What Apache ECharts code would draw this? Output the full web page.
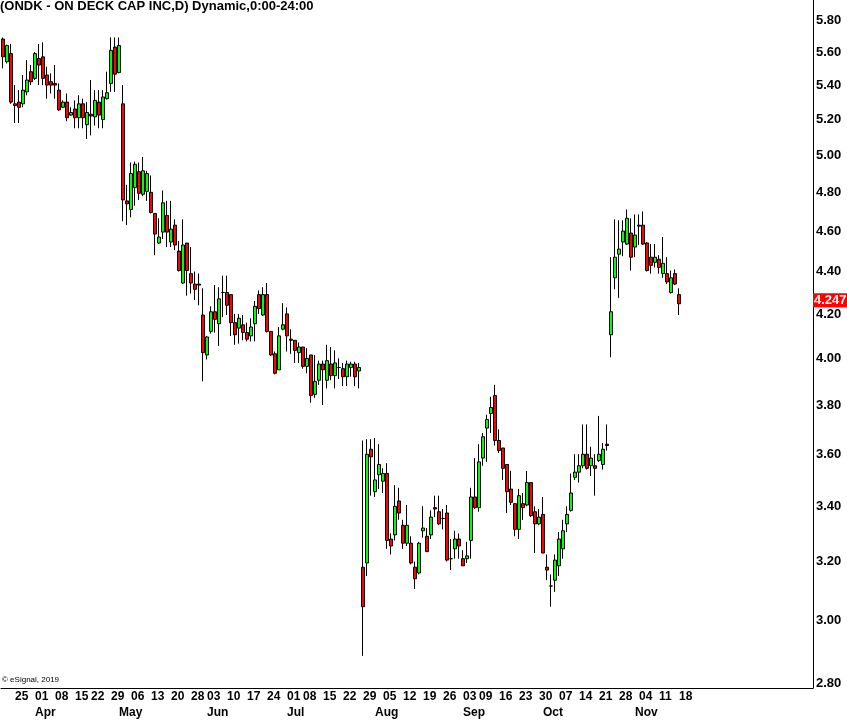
<!DOCTYPE html>
<html>
<head>
<meta charset="utf-8">
<script src="https://cdn.jsdelivr.net/npm/echarts@6/dist/echarts.min.js"></script>
<style>
html,body{margin:0;padding:0;background:#fff;}
#chart{width:847px;height:721px;}
</style>
</head>
<body>
<div id="chart"></div>
<script>
// ---- Data (ONDK daily, 2019) ----
const dates = [
'2019-03-20','2019-03-21','2019-03-22','2019-03-25','2019-03-26','2019-03-27','2019-03-28','2019-03-29',
'2019-04-01','2019-04-02','2019-04-03','2019-04-04','2019-04-05','2019-04-08','2019-04-09','2019-04-10','2019-04-11','2019-04-12','2019-04-15','2019-04-16','2019-04-17','2019-04-18','2019-04-22','2019-04-23','2019-04-24','2019-04-25','2019-04-26','2019-04-29','2019-04-30',
'2019-05-01','2019-05-02','2019-05-03','2019-05-06','2019-05-07','2019-05-08','2019-05-09','2019-05-10','2019-05-13','2019-05-14','2019-05-15','2019-05-16','2019-05-17','2019-05-20','2019-05-21','2019-05-22','2019-05-23','2019-05-24','2019-05-28','2019-05-29','2019-05-30','2019-05-31',
'2019-06-03','2019-06-04','2019-06-05','2019-06-06','2019-06-07','2019-06-10','2019-06-11','2019-06-12','2019-06-13','2019-06-14','2019-06-17','2019-06-18','2019-06-19','2019-06-20','2019-06-21','2019-06-24','2019-06-25','2019-06-26','2019-06-27','2019-06-28',
'2019-07-01','2019-07-02','2019-07-03','2019-07-05','2019-07-08','2019-07-09','2019-07-10','2019-07-11','2019-07-12','2019-07-15','2019-07-16','2019-07-17','2019-07-18','2019-07-19','2019-07-22','2019-07-23','2019-07-24','2019-07-25','2019-07-26','2019-07-29','2019-07-30','2019-07-31',
'2019-08-01','2019-08-02','2019-08-05','2019-08-06','2019-08-07','2019-08-08','2019-08-09','2019-08-12','2019-08-13','2019-08-14','2019-08-15','2019-08-16','2019-08-19','2019-08-20','2019-08-21','2019-08-22','2019-08-23','2019-08-26','2019-08-27','2019-08-28','2019-08-29','2019-08-30',
'2019-09-03','2019-09-04','2019-09-05','2019-09-06','2019-09-09','2019-09-10','2019-09-11','2019-09-12','2019-09-13','2019-09-16','2019-09-17','2019-09-18','2019-09-19','2019-09-20','2019-09-23','2019-09-24','2019-09-25','2019-09-26','2019-09-27','2019-09-30',
'2019-10-01','2019-10-02','2019-10-03','2019-10-04','2019-10-07','2019-10-08','2019-10-09','2019-10-10','2019-10-11','2019-10-14','2019-10-15','2019-10-16','2019-10-17','2019-10-18','2019-10-21','2019-10-22','2019-10-23','2019-10-24','2019-10-25','2019-10-28','2019-10-29','2019-10-30','2019-10-31',
'2019-11-01','2019-11-04','2019-11-05','2019-11-06','2019-11-07','2019-11-08','2019-11-11','2019-11-12','2019-11-13','2019-11-14','2019-11-15','2019-11-18'
];

const opens = [
5.68,5.54,5.59,5.29,5.30,5.29,5.36,5.48,5.44,5.56,
5.57,5.46,5.42,5.41,5.37,5.27,5.30,5.225,5.26,5.21,
5.29,5.17,5.23,5.215,5.30,5.20,5.32,5.41,5.63,5.475,
5.29,4.755,4.71,4.825,4.91,4.79,4.805,4.80,4.69,4.54,
4.595,4.68,4.545,4.63,4.50,4.345,4.54,4.39,4.34,4.34,
4.195,4.015,4.12,4.21,4.155,4.30,4.30,4.29,4.16,4.135,
4.15,4.115,4.10,4.155,4.29,4.195,4.29,4.12,4.02,3.95,
4.13,4.20,4.085,4.08,4.025,4.05,3.965,4.015,3.845,3.905,
3.975,3.905,3.975,3.925,3.96,3.955,3.92,3.96,3.975,3.945,
3.18,3.195,3.62,3.455,3.52,3.495,3.525,3.28,3.295,3.42,
3.33,3.265,3.265,3.18,3.16,3.31,3.29,3.295,3.395,3.38,
3.355,3.375,3.21,3.245,3.28,3.21,3.21,3.275,3.435,3.395,
3.585,3.705,3.765,3.84,3.655,3.625,3.56,3.465,3.41,3.315,
3.41,3.405,3.49,3.38,3.335,3.37,3.18,3.115,3.135,3.185,
3.245,3.335,3.385,3.51,3.53,3.555,3.60,3.555,3.555,3.575,
3.56,3.64,4.105,4.37,4.485,4.545,4.535,4.59,4.52,4.63,
4.63,4.54,4.47,4.445,4.46,4.39,4.39,4.30,4.39,4.29
];
const closes = [
5.57,5.64,5.30,5.28,5.27,5.37,5.43,5.42,5.59,5.52,
5.44,5.40,5.40,5.40,5.255,5.30,5.21,5.24,5.21,5.29,
5.21,5.24,5.22,5.31,5.225,5.33,5.355,5.61,5.465,5.64,
4.76,4.74,4.90,4.95,4.795,4.915,4.90,4.695,4.585,4.57,
4.745,4.595,4.61,4.53,4.405,4.53,4.405,4.345,4.315,4.335,
4.025,4.095,4.21,4.175,4.27,4.30,4.24,4.16,4.105,4.18,
4.115,4.085,4.14,4.235,4.225,4.29,4.12,4.015,3.935,4.10,
4.15,4.10,4.08,4.035,4.05,3.965,4.00,3.84,3.90,3.975,
3.95,3.99,3.925,3.98,3.96,3.92,3.975,3.975,3.92,3.96,
3.045,3.60,3.59,3.50,3.56,3.525,3.275,3.255,3.40,3.375,
3.265,3.33,3.195,3.14,3.265,3.32,3.235,3.36,3.39,3.335,
3.355,3.205,3.21,3.28,3.255,3.185,3.22,3.435,3.395,3.57,
3.67,3.74,3.79,3.655,3.615,3.545,3.455,3.415,3.315,3.44,
3.395,3.49,3.365,3.335,3.36,3.23,3.17,3.115,3.205,3.28,
3.31,3.37,3.45,3.53,3.555,3.60,3.545,3.585,3.545,3.60,
3.62,3.635,4.21,4.47,4.51,4.60,4.665,4.47,4.58,4.625,
4.535,4.405,4.43,4.47,4.42,4.44,4.35,4.37,4.34,4.247
];
const lows = [
5.50,5.53,5.29,5.18,5.18,5.27,5.34,5.40,5.43,5.40,
5.40,5.32,5.35,5.32,5.25,5.265,5.19,5.22,5.15,5.15,
5.15,5.09,5.11,5.165,5.15,5.15,5.315,5.36,5.36,5.47,
4.65,4.63,4.67,4.73,4.76,4.78,4.755,4.69,4.48,4.535,
4.56,4.52,4.52,4.505,4.40,4.34,4.285,4.295,4.265,4.24,
3.90,3.995,4.11,4.115,4.055,4.185,4.195,4.10,4.06,4.065,
4.08,4.075,4.075,4.075,4.20,4.19,4.115,4.01,3.93,3.95,
4.125,4.03,4.02,3.98,3.98,3.955,3.935,3.81,3.83,3.885,
3.80,3.87,3.905,3.87,3.91,3.88,3.88,3.92,3.88,3.87,
2.885,3.15,3.44,3.435,3.465,3.45,3.245,3.225,3.275,3.35,
3.245,3.255,3.19,3.105,3.155,3.285,3.235,3.28,3.36,3.33,
3.315,3.20,3.17,3.21,3.21,3.185,3.195,3.21,3.39,3.38,
3.555,3.57,3.685,3.635,3.605,3.50,3.375,3.405,3.29,3.28,
3.35,3.40,3.36,3.23,3.33,3.23,3.135,3.045,3.095,3.15,
3.21,3.305,3.38,3.50,3.49,3.545,3.54,3.515,3.44,3.57,
3.54,3.615,4.005,4.315,4.275,4.475,4.53,4.405,4.47,4.53,
4.53,4.40,4.39,4.42,4.39,4.37,4.34,4.295,4.335,4.195
];
const highs = [
5.69,5.645,5.65,5.40,5.37,5.46,5.55,5.52,5.60,5.65,
5.66,5.51,5.47,5.52,5.41,5.31,5.35,5.27,5.31,5.34,
5.32,5.30,5.43,5.37,5.37,5.37,5.48,5.69,5.69,5.69,
5.40,4.84,4.96,4.965,4.96,4.99,4.915,4.89,4.69,4.665,
4.81,4.755,4.755,4.66,4.55,4.66,4.54,4.52,4.40,4.39,
4.32,4.10,4.235,4.335,4.325,4.38,4.38,4.29,4.20,4.20,
4.195,4.16,4.18,4.26,4.31,4.325,4.345,4.12,4.03,4.14,
4.25,4.23,4.13,4.08,4.07,4.05,4.045,4.015,4.015,3.99,
3.99,4.06,4.05,4.035,4.00,3.98,3.99,3.985,3.985,3.98,
3.655,3.66,3.66,3.665,3.64,3.545,3.565,3.30,3.48,3.47,
3.35,3.405,3.29,3.20,3.27,3.40,3.32,3.385,3.44,3.44,
3.39,3.405,3.28,3.31,3.30,3.24,3.27,3.47,3.585,3.64,
3.685,3.76,3.835,3.885,3.70,3.625,3.56,3.535,3.41,3.465,
3.45,3.535,3.49,3.40,3.39,3.435,3.225,3.155,3.225,3.305,
3.35,3.40,3.525,3.60,3.60,3.72,3.72,3.63,3.60,3.755,
3.645,3.72,4.47,4.66,4.655,4.655,4.71,4.665,4.685,4.685,
4.70,4.545,4.535,4.535,4.48,4.57,4.47,4.405,4.41,4.32
];

const priceTicks = [2.80,3.00,3.20,3.40,3.60,3.80,4.00,4.20,4.40,4.60,4.80,5.00,5.20,5.40,5.60,5.80];
const monthNames = ['Jan','Feb','Mar','Apr','May','Jun','Jul','Aug','Sep','Oct','Nov','Dec'];
const titleText = '(ONDK - ON DECK CAP INC,D) Dynamic,0:00-24:00';
const copyrightText = '\u00A9 eSignal, 2019';

// ---- layout constants ----
const FUTURE_SLOTS = 33;
const PRICE_MIN = 2.785, PRICE_MAX = 5.929;

const cats = dates.concat(new Array(FUTURE_SLOTS).fill(''));
const candleData = opens.map((o, i) => [Math.log(o), Math.log(closes[i]), Math.log(lows[i]), Math.log(highs[i])]);
const lastPrice = closes[closes.length - 1];

function dow(s) { return new Date(s + 'T12:00:00Z').getUTCDay(); }
function isWeekStart(i) {
  if (i === 0 || !cats[i]) return false;
  return dow(cats[i]) < dow(cats[i - 1]) || (Date.parse(cats[i]) - Date.parse(cats[i - 1])) > 3 * 86400000;
}
function isMonthStart(i) {
  if (!cats[i]) return false;
  if (i === 0) return false;
  return cats[i].slice(5, 7) !== cats[i - 1].slice(5, 7);
}

const FONT = '"Liberation Sans", Arial, sans-serif';
const chart = echarts.init(document.getElementById('chart'), null, { renderer: 'canvas' });
chart.setOption({
  animation: false,
  backgroundColor: '#ffffff',
  grid: { left: 1, right: 34, top: 0, bottom: 33, containLabel: false },
  xAxis: [
    {
      type: 'category', data: cats, boundaryGap: true, position: 'bottom',
      axisLine: { show: true, lineStyle: { color: '#000', width: 1 } },
      axisTick: { show: false },
      splitLine: { show: false },
      axisLabel: {
        interval: (idx) => isWeekStart(idx),
        formatter: (v) => v ? v.slice(8, 10) : '',
        align: 'left', margin: 3,
        color: '#000', fontWeight: 'bold', fontSize: 12, fontFamily: FONT
      }
    },
    {
      type: 'category', data: cats, boundaryGap: true, position: 'bottom', offset: 16,
      axisLine: { show: false }, axisTick: { show: false }, splitLine: { show: false },
      axisLabel: {
        interval: (idx) => isMonthStart(idx),
        formatter: (v) => v ? monthNames[parseInt(v.slice(5, 7), 10) - 1] : '',
        align: 'left', margin: 3,
        color: '#000', fontWeight: 'bold', fontSize: 12, fontFamily: FONT
      }
    }
  ],
  yAxis: {
    type: 'value', position: 'right',
    min: Math.log(PRICE_MIN), max: Math.log(PRICE_MAX),
    axisLine: { show: true, lineStyle: { color: '#000', width: 1 } },
    axisTick: { show: false },
    splitLine: { show: false },
    axisLabel: {
      customValues: priceTicks.map(Math.log),
      formatter: (v) => Math.exp(v).toFixed(2),
      margin: 3, color: '#000', fontWeight: 'bold', fontSize: 13, fontFamily: FONT
    }
  },
  series: [{
    type: 'candlestick',
    xAxisIndex: 0,
    data: candleData,
    barWidth: 3,
    itemStyle: {
      color: '#00ff00', color0: '#ff0000',
      borderColor: '#000000', borderColor0: '#000000', borderWidth: 1
    },
    markLine: {
      silent: true, symbol: ['none', 'none'],
      lineStyle: { color: 'rgba(0,0,0,0)', width: 1, type: 'solid' },
      emphasis: { disabled: true },
      data: [{ yAxis: Math.log(lastPrice) }],
      label: {
        show: true, position: 'end', distance: 0,
        formatter: lastPrice.toFixed(3),
        backgroundColor: '#ff0000', color: '#ffffff',
        fontWeight: 'bold', fontSize: 13, fontFamily: FONT,
        padding: [1, 1, 0, 1]
      }
    }
  }],
  graphic: [
    { type: 'text', left: 0, top: 0, style: { text: titleText, font: 'bold 13px ' + FONT, fill: '#000' } },
    { type: 'text', left: 2, top: 676, style: { text: copyrightText, font: '8px ' + FONT, fill: '#000' } }
  ]
});
</script>
</body>
</html>
